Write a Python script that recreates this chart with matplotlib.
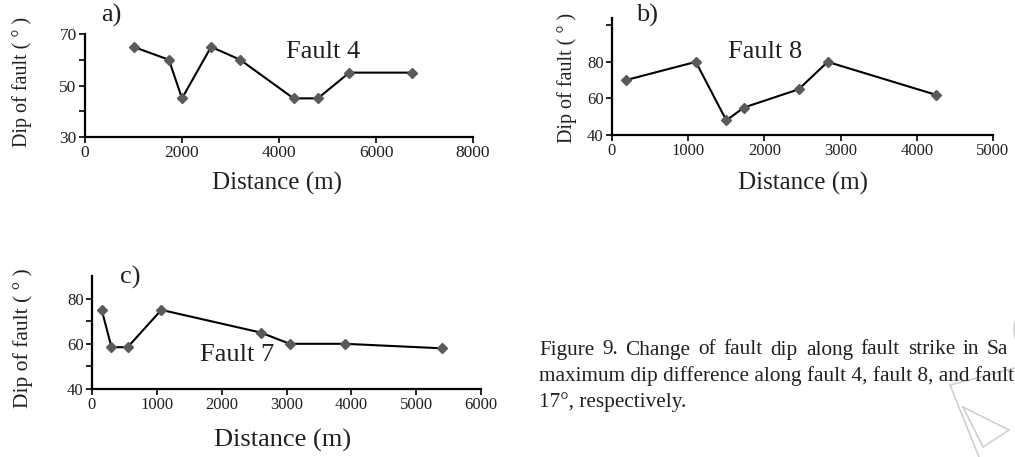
import matplotlib
matplotlib.use("Agg")
import matplotlib.pyplot as plt
import numpy as np
from matplotlib.patches import Arc

plt.rcParams["font.family"] = ["Liberation Serif", "DejaVu Serif"]

# ---- data ----
dist_f4 = [1000, 1730, 2000, 2600, 3200, 4300, 4800, 5450, 6750]
dip_f4 = [65, 60, 45, 65, 60, 45, 45, 55, 55]

dist_f8 = [180, 1100, 1500, 1730, 2450, 2830, 4250]
dip_f8 = [70, 80, 48, 55, 65, 80, 62]

dist_f7 = [150, 300, 550, 1070, 2600, 3050, 3900, 5400]
dip_f7 = [75, 58.5, 58.5, 75, 65, 60, 60, 58]

caption_lines = [
    "Figure 9. Change of fault dip along fault strike in Sa",
    "maximum dip difference along fault 4, fault 8, and fault",
    "17°, respectively.",
]

W, H = 1015, 457
TXT = "#231f20"
MK = "#5a5a5a"

fig = plt.figure(figsize=(W / 100, H / 100), dpi=100)


def px_axes(left, top, right, bottom):
    return fig.add_axes([left / W, 1 - bottom / H, (right - left) / W, (bottom - top) / H])


def ftext(x, y, s, **kw):
    kw.setdefault("color", TXT)
    return fig.text(x / W, 1 - y / H, s, **kw)


def style(ax, xmax, xstep, ylo, yhi, yticks, ylabels, fs):
    for side in ("top", "right"):
        ax.spines[side].set_visible(False)
    for side in ("left", "bottom"):
        ax.spines[side].set_linewidth(1.6)
        ax.spines[side].set_color("black")
    ax.set_xlim(0, xmax)
    ax.set_ylim(ylo, yhi)
    ax.set_xticks(np.arange(0, xmax + 1, xstep))
    ax.set_yticks(yticks)
    ax.set_yticklabels(ylabels)
    ax.tick_params(direction="out", length=4, width=1.2, labelsize=fs,
                   colors="black", labelcolor=TXT, pad=2)
    ax.patch.set_alpha(0)


def series(ax, x, y):
    ax.plot(x, y, color="black", lw=1.5, marker="D", ms=5.5,
            mfc=MK, mec=MK, clip_on=False, zorder=3)


# panel a  (fault 4)
ax_a = px_axes(85, 34, 473, 137)
series(ax_a, dist_f4, dip_f4)
style(ax_a, 8000, 2000, 30, 70, [30, 40, 50, 60, 70],
      ["30", "", "50", "", "70"], 12.5)

# panel b  (fault 8)
ax_b = px_axes(612, 18, 993, 135)
series(ax_b, dist_f8, dip_f8)
style(ax_b, 5000, 1000, 40, 104, [40, 60, 80, 100],
      ["40", "60", "80", ""], 12)

# panel c  (fault 7)
ax_c = px_axes(92, 276, 481, 389)
series(ax_c, dist_f7, dip_f7)
style(ax_c, 6000, 1000, 40, 90, [40, 50, 60, 70, 80],
      ["40", "", "60", "", "80"], 12)

# axis titles and annotations
ylab = "Dip of fault ( ° )"
ftext(22, 82, ylab, rotation=90, ha="center", va="center", fontsize=14.5)
ftext(567, 78, ylab, rotation=90, ha="center", va="center", fontsize=14.5)
ftext(23, 338, ylab, rotation=90, ha="center", va="center", fontsize=15.5)

ftext(277, 183, "Distance (m)", ha="center", va="center", fontsize=18)
ftext(803, 183, "Distance (m)", ha="center", va="center", fontsize=18)
ftext(283, 440, "Distance (m)", ha="center", va="center", fontsize=19)

ftext(111, 15, "a)", ha="center", va="center", fontsize=19)
ftext(647, 15, "b)", ha="center", va="center", fontsize=19)
ftext(130, 277, "c)", ha="center", va="center", fontsize=19)

ftext(323, 52, "Fault 4", ha="center", va="center", fontsize=19)
ftext(765, 52, "Fault 8", ha="center", va="center", fontsize=19)
ftext(237, 355, "Fault 7", ha="center", va="center", fontsize=19)

# caption (first line is justified so its last word starts near the edge)
cap_fs = 15.3
cap_x0, cap_end = 539, 987
renderer = fig.canvas.get_renderer()
words = caption_lines[0].split()
objs = [ftext(0, 350, w, ha="left", va="center", fontsize=cap_fs) for w in words]
widths = [o.get_window_extent(renderer).width for o in objs]
gap = (cap_end - cap_x0 - sum(widths[:-1])) / (len(words) - 1)
xpos = cap_x0
for o, w in zip(objs, widths):
    o.set_x(xpos / W)
    xpos += w + gap
ftext(cap_x0, 376, caption_lines[1], ha="left", va="center", fontsize=cap_fs)
ftext(cap_x0, 402, caption_lines[2], ha="left", va="center", fontsize=cap_fs)

# faint watermark outlines in the lower right corner
wm = fig.add_axes([0, 0, 1, 1], zorder=-1)
wm.set_xlim(0, W)
wm.set_ylim(H, 0)
wm.axis("off")
wm_col = "#cfcfcf"
wm.plot([1015, 950, 979], [368, 385, 457], color=wm_col, lw=1.2)
wm.plot([963, 1009, 983, 963], [407, 430, 447, 407], color=wm_col, lw=1.2)
wm.add_patch(Arc((1042, 330), 56, 56, theta1=150, theta2=215, color=wm_col, lw=1.2))
wm.add_patch(Arc((905, 482), 60, 60, theta1=55, theta2=125, color=wm_col, lw=1.2))

fig.savefig("out.png", dpi=100)
